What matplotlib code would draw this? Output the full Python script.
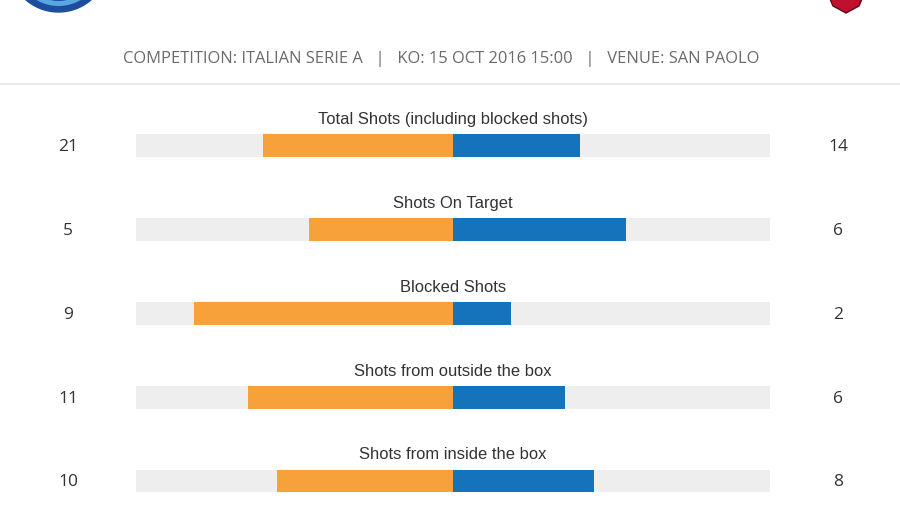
import matplotlib
matplotlib.use("Agg")
import matplotlib.pyplot as plt
from matplotlib.patches import Circle, Polygon

categories = ["Total Shots (including blocked shots)", "Shots On Target", "Blocked Shots",
              "Shots from outside the box", "Shots from inside the box"]
home_values = [21, 5, 9, 11, 10]
away_values = [14, 6, 2, 6, 8]
header = "COMPETITION: ITALIAN SERIE A   |   KO: 15 OCT 2016 15:00   |   VENUE: SAN PAOLO"

ORANGE = "#F7A13A"
BLUE = "#1473BA"
GREY = "#EEEEEE"

W, H = 900, 506
fig = plt.figure(figsize=(W / 100, H / 100), dpi=100)
fig.patch.set_facecolor("white")

# overlay in pixel coords for header decorations
ov = fig.add_axes([0, 0, 1, 1])
ov.set_xlim(0, W)
ov.set_ylim(H, 0)
ov.axis("off")
ov.add_patch(Circle((58.5, -36.7), 49.7, color="#1d4e9e"))
ov.add_patch(Circle((58.5, -36.7), 43, color="#5aa6e0"))
ov.add_patch(Circle((58.5, -36.7), 38, color="#1d4e9e"))
ov.add_patch(Polygon([(830, 0), (862, 0), (859, 7), (846, 14), (833, 7)],
                     closed=True, facecolor="#c0102d", edgecolor="#5a0a14", lw=1))
ov.text(441, 59, header, ha="center", va="center", fontsize=11.9,
        family="Open Sans", color="#6b6b6b")
ov.plot([0, W], [85, 85], color="#e6e6e6", lw=1.2)

# main chart axes: x in [-1, 1] spans px 136..770
s = 83.875
c0 = 146.5
top_px = 90
ax = fig.add_axes([136 / W, 0, 634 / W, (H - top_px) / H])
ax.set_xlim(-1, 1)
ax.set_ylim((H - c0) / s, -(c0 - top_px) / s)
ax.axis("off")

bh = 23 / s
for i, (cat, h, a) in enumerate(zip(categories, home_values, away_values)):
    tot = h + a
    ax.barh(i, 2, left=-1, height=bh, color=GREY)
    ax.barh(i, -h / tot, left=0, height=bh, color=ORANGE)
    ax.barh(i, a / tot, left=0, height=bh, color=BLUE)
    ax.text(0, i - 27 / s, cat, ha="center", va="center", fontsize=11.9,
            family="Liberation Sans", color="#333333")
    ax.text(-1 - 68 / 317, i + 0.5 / s, str(h), ha="center", va="center", fontsize=12.5,
            family="Open Sans", color="#333333")
    ax.text(1 + 68 / 317, i + 0.5 / s, str(a), ha="center", va="center", fontsize=12.5,
            family="Open Sans", color="#333333")

fig.savefig("out.png", dpi=100, facecolor="white")
